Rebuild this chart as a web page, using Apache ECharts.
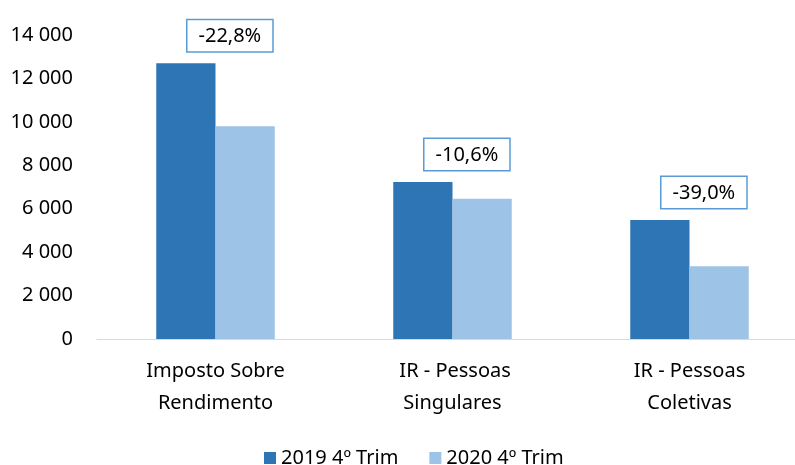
<!DOCTYPE html>
<html>
<head>
<meta charset="utf-8">
<script src="https://cdn.jsdelivr.net/npm/echarts@6/dist/echarts.min.js"></script>
<style>
  html, body { margin: 0; padding: 0; background: #fff; overflow: hidden; }
  #chart { width: 808px; height: 465px; }
</style>
</head>
<body>
<div id="chart"></div>
<script>
const categories = ['Imposto Sobre\nRendimento', ' IR - Pessoas\nSingulares', 'IR - Pessoas\nColetivas']
const values2019 = [12700, 7230, 5480]
const values2020 = [9800, 6460, 3350]
const changeLabels = ['-22,8%', '-10,6%', '-39,0%']
const seriesNames = ['2019 4º Trim', '2020 4º Trim']

const font = 'Noto Sans'
const myChart = echarts.init(document.getElementById('chart'))
const option = {
    animation: false,
    textStyle: { fontFamily: font },
    grid: {
        left: 97,
        right: 0,
        top: 35,
        bottom: 126
    },
    legend: {
        top: 443,
        left: 259,
        itemWidth: 12,
        itemHeight: 12,
        itemGap: 31,
        icon: 'rect',
        textStyle: { fontFamily: font, fontSize: 20, color: '#000' },
        data: seriesNames
    },
    xAxis: {
        type: 'category',
        data: categories,
        axisLine: { lineStyle: { color: '#d9d9d9', width: 1 } },
        axisTick: { show: false },
        axisLabel: {
            color: '#000',
            fontSize: 20,
            lineHeight: 32,
            margin: 16,
            fontFamily: font
        }
    },
    yAxis: {
        type: 'value',
        min: 0,
        max: 14000,
        interval: 2000,
        splitLine: { show: false },
        axisLine: { show: false },
        axisTick: { show: false },
        axisLabel: {
            color: '#000',
            fontSize: 20,
            margin: 24,
            fontFamily: font,
            formatter: (v) => String(v).replace(/\B(?=(\d{3})+(?!\d))/g, ' ')
        }
    },
    series: [
        {
            name: seriesNames[0],
            type: 'bar',
            data: values2019,
            barGap: 0,
            barCategoryGap: '50%',
            itemStyle: { color: '#2e75b6' },
            label: {
                show: true,
                position: 'top',
                offset: [44, -7],
                formatter: (p) => changeLabels[p.dataIndex],
                color: '#000',
                fontSize: 20,
                fontFamily: font,
                backgroundColor: '#fff',
                borderColor: '#5b9bd5',
                borderWidth: 1.5,
                padding: [6, 11, 5, 11]
            }
        },
        {
            name: seriesNames[1],
            type: 'bar',
            data: values2020,
            itemStyle: { color: '#9dc3e6' }
        }
    ]
}
myChart.setOption(option)
</script>
</body>
</html>
